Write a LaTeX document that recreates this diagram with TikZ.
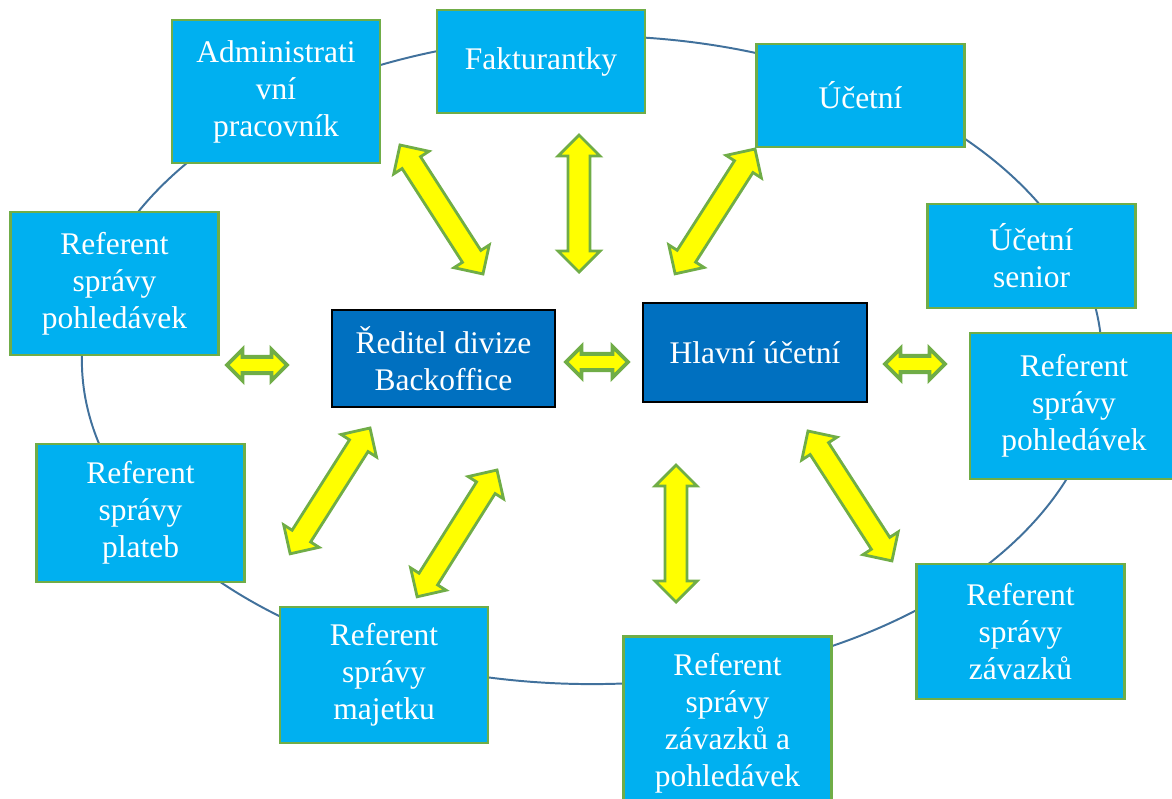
\documentclass[tikz,border=0pt]{standalone}
\usepackage{fontspec}
\setmainfont{Liberation Serif}
\usepackage{xcolor}
\usetikzlibrary{positioning,calc}
\definecolor{cRole}{HTML}{00B0F0}
\definecolor{cHead}{HTML}{0070C0}
\definecolor{cLeaf}{HTML}{70AD47}
\definecolor{cRing}{HTML}{41719C}
\definecolor{cBolt}{HTML}{FFFF00}
\tikzset{
  txt/.style   ={text=white,align=center,inner sep=0pt,
                 font=\fontsize{22.4}{26.3}\selectfont},
  rbox/.style  ={txt,draw=cLeaf,fill=cRole,line width=1.8pt,
                 minimum width=5.2cm},
  hbox/.style  ={txt,draw=black,fill=cHead,line width=1.6pt},
  ring/.style  ={draw=cRing,line width=1.4pt},
  dbl/.style   ={draw=cLeaf,fill=cBolt,line width=2pt,line join=miter},
}
% yellow two-way arrow between two named points (#1 = size factor)
\newdimen\lkax \newdimen\lkay \newdimen\lkbx \newdimen\lkby
\newcommand\link[3][1]{%
  \pgfextractx{\lkax}{\pgfpointanchor{#2}{center}}%
  \pgfextracty{\lkay}{\pgfpointanchor{#2}{center}}%
  \pgfextractx{\lkbx}{\pgfpointanchor{#3}{center}}%
  \pgfextracty{\lkby}{\pgfpointanchor{#3}{center}}%
  \pgfmathsetmacro\lkang{atan2(\lkby-\lkay,\lkbx-\lkax)}%
  \pgfmathsetmacro\lklen{veclen(\lkbx-\lkax,\lkby-\lkay)/#1}%
  \begin{scope}[shift={(#2)},rotate=\lkang,x=1pt,y=1pt,scale=#1]
    \draw[dbl,line width=2pt/#1] (0,0) -- (14.9,14.9) -- (14.9,7.8) -- (\lklen-14.9,7.8)
      -- (\lklen-14.9,14.9) -- (\lklen,0) -- (\lklen-14.9,-14.9) -- (\lklen-14.9,-7.8)
      -- (14.9,-7.8) -- (14.9,-14.9) -- cycle;
  \end{scope}}

\begin{document}
\begin{tikzpicture}[x=0.025cm,y=-0.025cm]
\useasboundingbox (0,0) rectangle (1172,798);
\clip (0,0) rectangle (1172,798);

% ring behind the boxes
\draw[ring] (592,360) ellipse [x radius=12.75cm, y radius=8.1cm];

% centre
\node[hbox,minimum width=5.575cm,minimum height=2.425cm] (reditel) at (443.5,358.5)
  {Ředitel divize\\Backoffice};
\node[hbox,minimum width=5.6cm,minimum height=2.475cm] (hlavni) at (755,352.5)
  {Hlavní účetní};

% roles round the ring
\node[rbox,minimum height=3.575cm] (admin)  at (276,91.5)    {Administrati\\vní\\pracovník};
\node[rbox,minimum height=2.575cm] (faktur) at (541,61.5)    {Fakturantky};
\node[rbox,minimum height=2.575cm] (ucetni) at (860.5,95.5)  {Účetní};
\node[rbox,minimum height=2.6cm]   (senior) at (1031.5,256)  {Účetní\\senior};
\node[rbox,minimum height=3.65cm]  (pohlR)  at (1074,406)    {Referent\\správy\\pohledávek};
\node[rbox,minimum height=3.375cm] (zavaz)  at (1020.5,631.5){Referent\\správy\\závazků};
\node[rbox,minimum height=4.325cm] (zapo)   at (727.5,723)   {Referent\\správy\\závazků a\\pohledávek};
\node[rbox,minimum height=3.4cm]   (majet)  at (384,675)     {Referent\\správy\\majetku};
\node[rbox,minimum height=3.45cm]  (plateb) at (140.5,513)   {Referent\\správy\\plateb};
\node[rbox,minimum height=3.575cm] (pohlL)  at (114.5,283.5) {Referent\\správy\\pohledávek};

% arrow ends
\coordinate (admin-a)  at (400,145);  \coordinate (admin-b)  at (483,274);
\coordinate (faktur-a) at (579,135);  \coordinate (faktur-b) at (579,272);
\coordinate (ucetni-a) at (755,149);  \coordinate (ucetni-b) at (675,274);
\coordinate (pohlL-a)  at (227,365);  \coordinate (pohlL-b)  at (287,365);
\coordinate (mid-a)    at (566,362);  \coordinate (mid-b)    at (628,362);
\coordinate (pohlR-a)  at (885,364);  \coordinate (pohlR-b)  at (945,364);
\coordinate (plateb-a) at (370,428);  \coordinate (plateb-b) at (290,554);
\coordinate (majet-a)  at (497,470);  \coordinate (majet-b)  at (417,597);
\coordinate (zapo-a)   at (676,465);  \coordinate (zapo-b)   at (676,602);
\coordinate (zavaz-a)  at (808,431);  \coordinate (zavaz-b)  at (892,561);

\link{admin-a}{admin-b}
\link{faktur-a}{faktur-b}
\link{ucetni-a}{ucetni-b}
\link[0.74]{pohlL-a}{pohlL-b}
\link[0.74]{mid-a}{mid-b}
\link[0.74]{pohlR-a}{pohlR-b}
\link{plateb-a}{plateb-b}
\link{majet-a}{majet-b}
\link{zapo-a}{zapo-b}
\link{zavaz-a}{zavaz-b}
\end{tikzpicture}
\end{document}
